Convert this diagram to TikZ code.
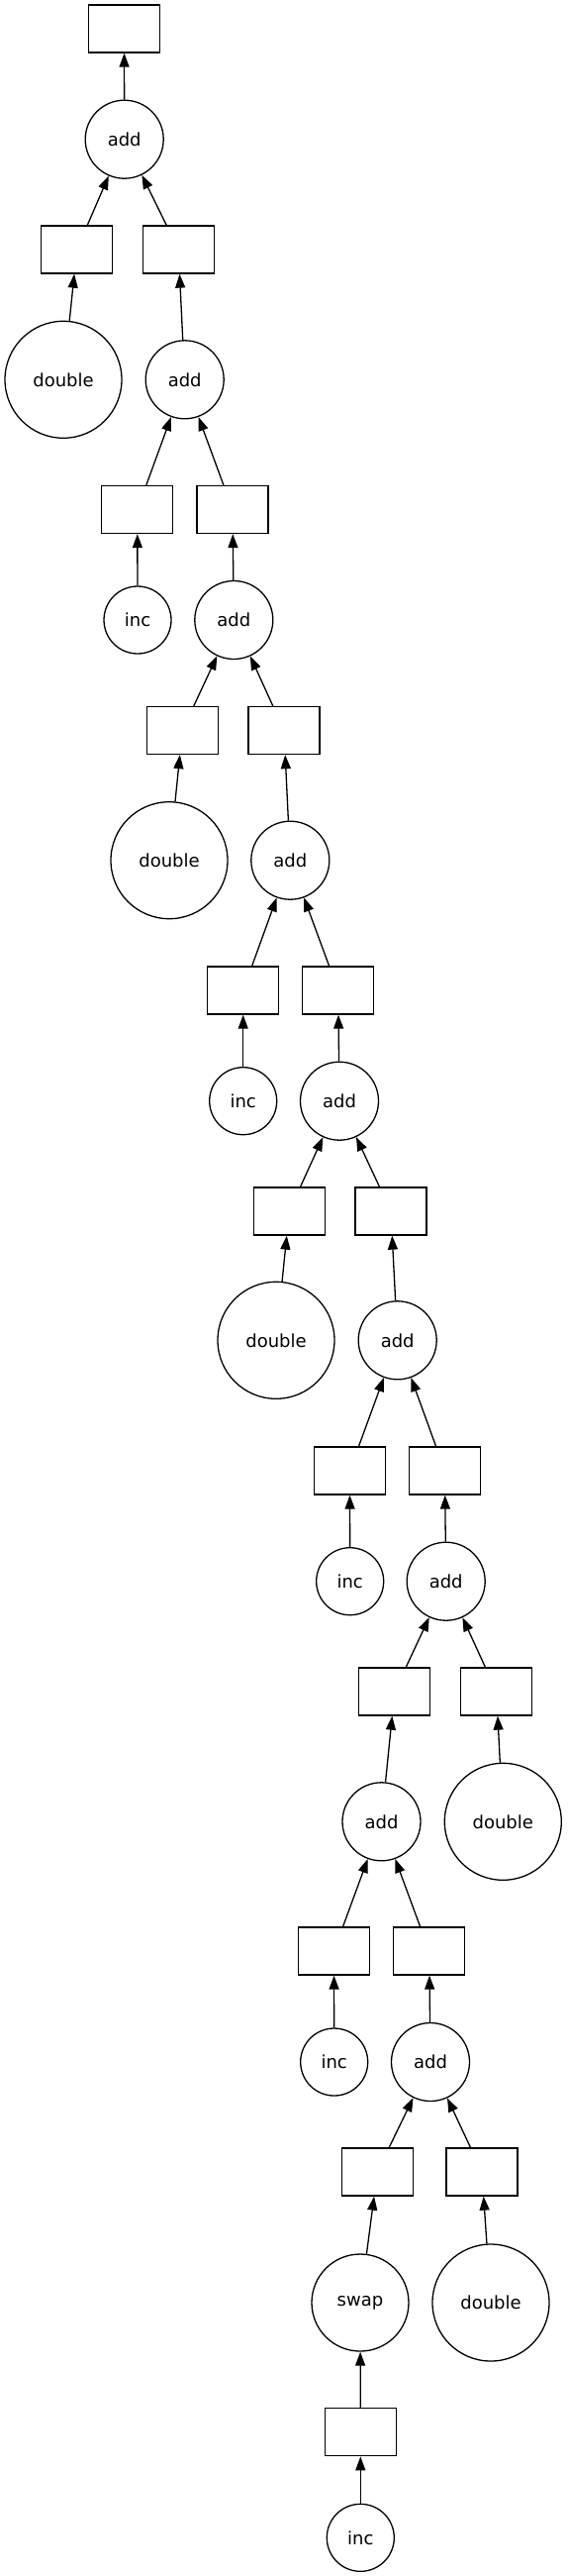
\documentclass[tikz,border=0pt]{standalone}
\usepackage{fontspec}
\setmainfont{DejaVu Sans}
\usepackage{tikz}
\usetikzlibrary{arrows.meta}

\begin{document}
\begin{tikzpicture}[
    x=1pt, y=-1pt,
    every node/.style={font=\fontsize{18pt}{20pt}\selectfont},
    box/.style={draw, line width=1.3pt, minimum width=72pt, minimum height=48pt, inner sep=0pt},
    fn/.style={draw, circle, line width=1.3pt, minimum size=#1, inner sep=0pt},
    arr/.style={-{Triangle[length=14pt, width=10pt]}, line width=1.3pt, color=#1},
]
    \useasboundingbox (0,0) rectangle (573,2601);

    % Top
    \node[box] (out) at (125.5,29) {};
    \node[fn=79pt] (add1) at (125.7,140.7) {add};
    \node[box] (bl1) at (77.7,252) {};
    \node[box] (br1) at (180.3,252) {};
    \node[fn=118pt] (dbl1) at (64,383.3) {double};
    \node[fn=79pt] (add2) at (186.7,383.3) {add};

    % Chain, upper part
    \node[box] (bl2) at (138.8,514.5) {};
    \node[box] (br2) at (235,514.5) {};
    \node[fn=68pt] (inc1) at (139,626) {inc};
    \node[fn=79pt] (add3) at (236.3,626) {add};
    \node[box] (bl3) at (184.3,737.5) {};
    \node[box] (br3) at (287,737.5) {};
    \node[fn=118pt] (dbl2) at (171,868.7) {double};
    \node[fn=79pt] (add4) at (293.3,868.7) {add};
    \node[box] (bl4) at (245.7,1000) {};
    \node[box] (br4) at (341.7,1000) {};
    \node[fn=68pt] (inc2) at (245.7,1111.7) {inc};
    \node[fn=79pt] (add5) at (343,1111.7) {add};
    \node[box] (bl5) at (292.3,1223) {};
    \node[box] (br5) at (395,1223) {};
    \node[fn=118pt] (dbl3) at (279,1353.3) {double};
    \node[fn=79pt] (add6) at (401.7,1353.3) {add};
    \node[box] (bl6) at (353.5,1485) {};
    \node[box] (br6) at (449.5,1485) {};
    \node[fn=68pt] (inc3) at (353.7,1596.7) {inc};
    \node[fn=79pt] (add7) at (450.7,1596.7) {add};

    % Chain, lower part
    \node[box] (bl7) at (398.8,1708) {};
    \node[box] (br7) at (501.7,1708) {};
    \node[fn=79pt] (add8) at (385.5,1839.3) {add};
    \node[fn=118pt] (dbl4) at (508.3,1839.3) {double};
    \node[box] (bl8) at (337.5,1970) {};
    \node[box] (br8) at (433.7,1970) {};
    \node[fn=68pt] (inc4) at (337.7,2082) {inc};
    \node[fn=79pt] (add9) at (435,2082) {add};
    \node[box] (bl9) at (381.3,2193) {};
    \node[box] (br9) at (487,2193) {};
    \node[fn=98pt] (swap) at (364,2325) {swap};
    \node[fn=118pt] (dbl5) at (496,2325) {double};
    \node[box] (bl10) at (364.3,2455.7) {};
    \node[fn=68pt] (inc5) at (364.3,2562.3) {inc};

    % Arrows
    \draw[arr=black] (add1) -- (out);
    \draw[arr=black] (bl1) -- (add1);
    \draw[arr=black] (br1) -- (add1);
    \draw[arr=black] (dbl1) -- (bl1);
    \draw[arr=black] (add2) -- (br1);
    \draw[arr=black] (bl2) -- (add2);
    \draw[arr=black] (br2) -- (add2);
    \draw[arr=black] (inc1) -- (bl2);
    \draw[arr=black] (add3) -- (br2);
    \draw[arr=black] (bl3) -- (add3);
    \draw[arr=black] (br3) -- (add3);
    \draw[arr=black] (dbl2) -- (bl3);
    \draw[arr=black] (add4) -- (br3);
    \draw[arr=black] (bl4) -- (add4);
    \draw[arr=black] (br4) -- (add4);
    \draw[arr=black] (inc2) -- (bl4);
    \draw[arr=black] (add5) -- (br4);
    \draw[arr=black] (bl5) -- (add5);
    \draw[arr=black] (br5) -- (add5);
    \draw[arr=black] (dbl3) -- (bl5);
    \draw[arr=black] (add6) -- (br5);
    \draw[arr=black] (bl6) -- (add6);
    \draw[arr=black] (br6) -- (add6);
    \draw[arr=black] (inc3) -- (bl6);
    \draw[arr=black] (add7) -- (br6);
    \draw[arr=black] (bl7) -- (add7);
    \draw[arr=black] (br7) -- (add7);
    \draw[arr=black] (add8) -- (bl7);
    \draw[arr=black] (dbl4) -- (br7);
    \draw[arr=black] (bl8) -- (add8);
    \draw[arr=black] (br8) -- (add8);
    \draw[arr=black] (inc4) -- (bl8);
    \draw[arr=black] (add9) -- (br8);
    \draw[arr=black] (bl9) -- (add9);
    \draw[arr=black] (br9) -- (add9);
    \draw[arr=black] (swap) -- (bl9);
    \draw[arr=black] (dbl5) -- (br9);
    \draw[arr=black] (bl10) -- (swap);
    \draw[arr=black] (inc5) -- (bl10);
\end{tikzpicture}
\end{document}
